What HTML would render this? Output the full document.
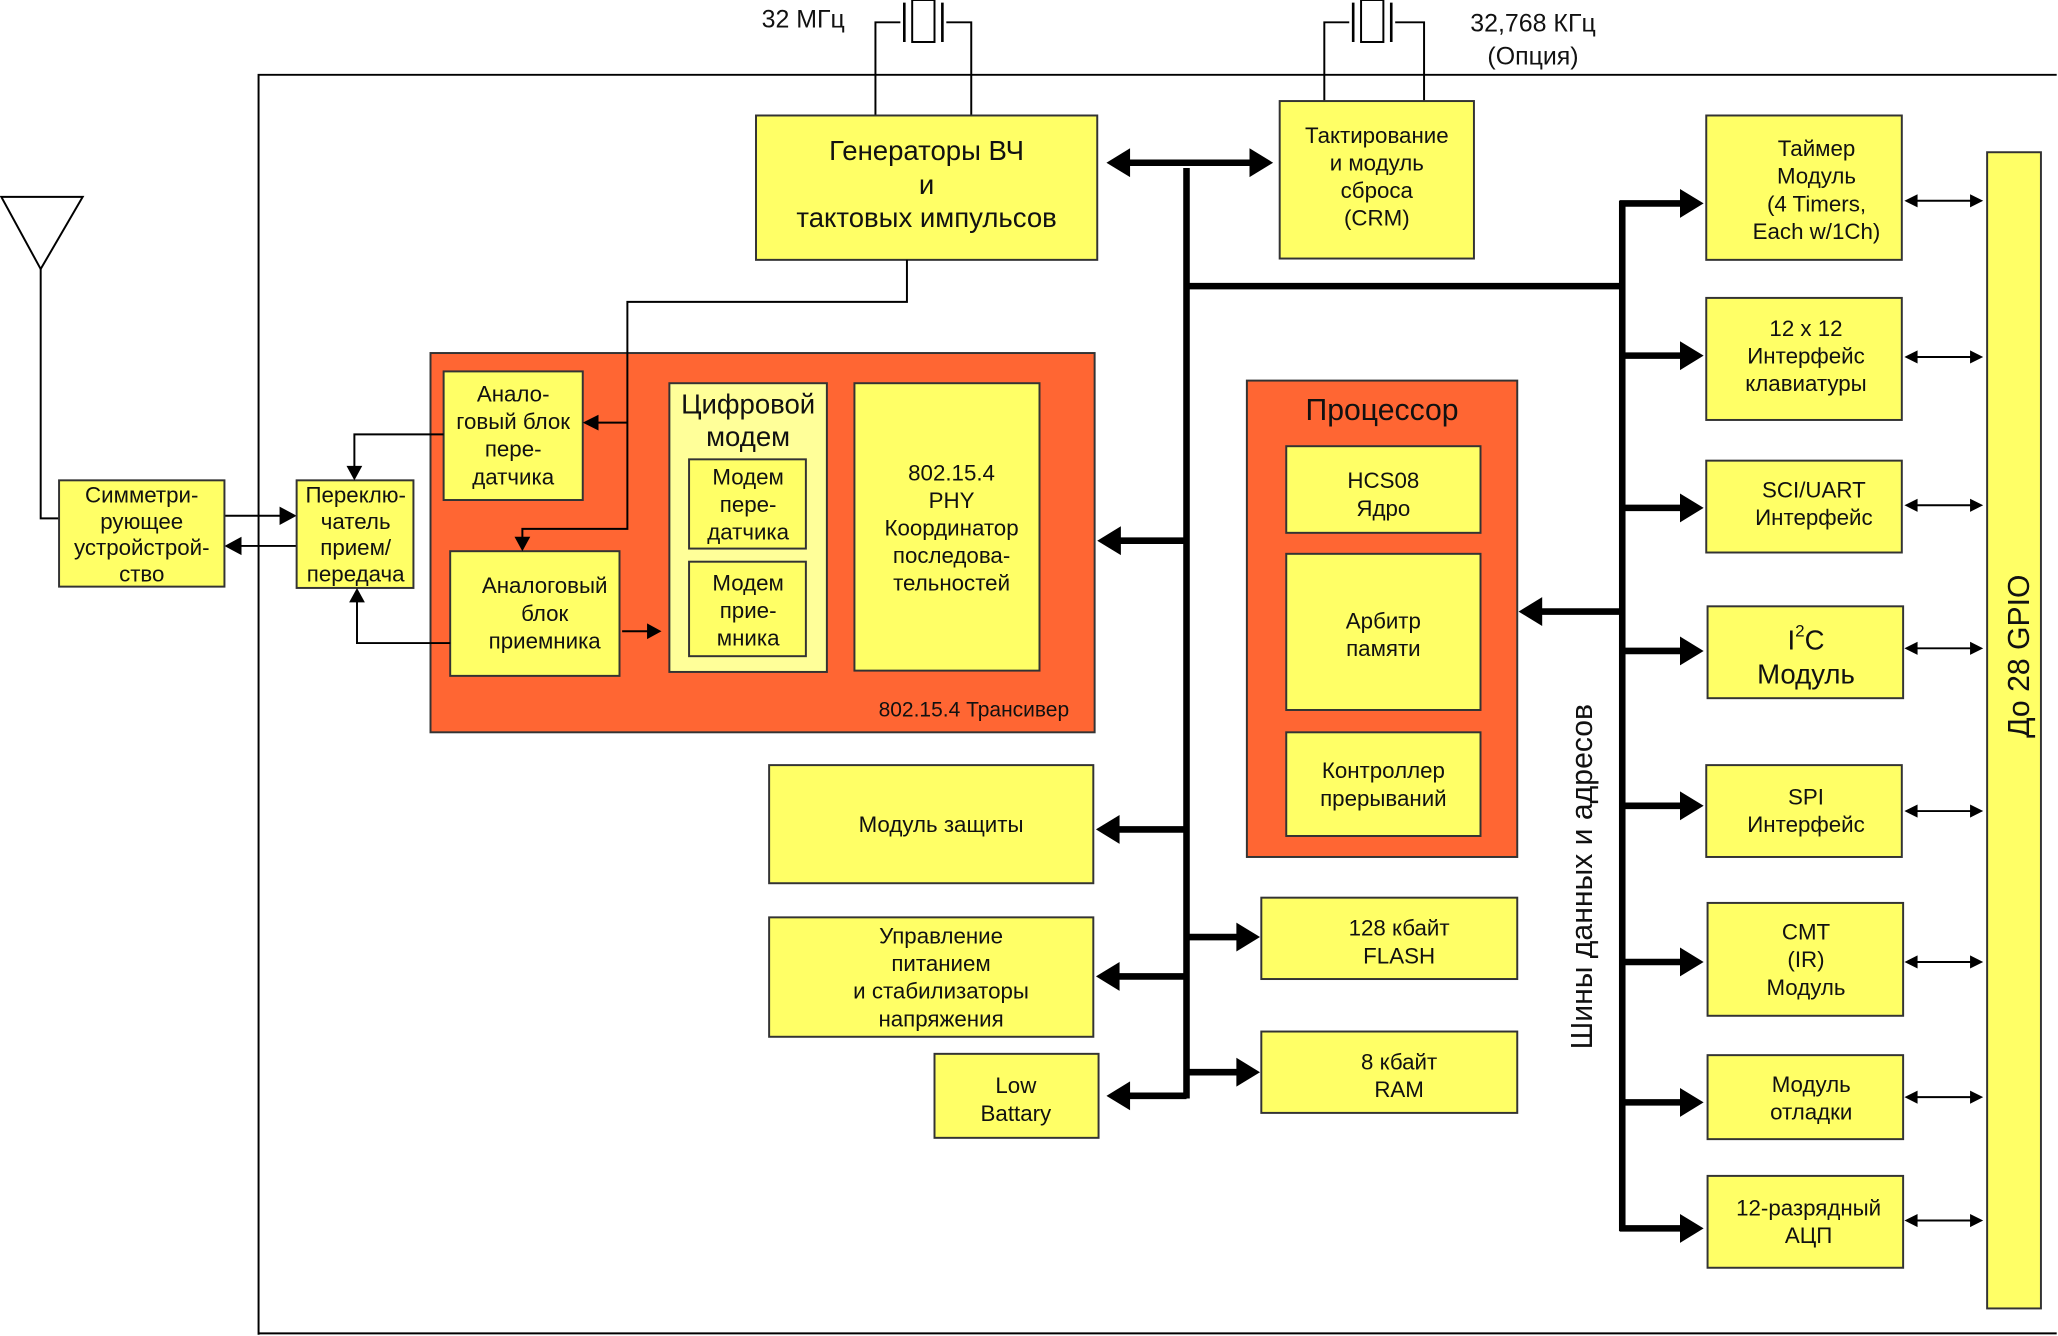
<!DOCTYPE html>
<html><head><meta charset="utf-8">
<style>
html,body{margin:0;padding:0;background:#fff;}
svg{display:block;}
text{font-family:"Liberation Sans","DejaVu Sans",sans-serif;fill:#111;}
</style></head>
<body>
<svg width="2058" height="1336" viewBox="0 0 1568 1018" preserveAspectRatio="none" xmlns="http://www.w3.org/2000/svg">
<g fill="none" stroke="#000" stroke-width="1.5">
  <polyline points="197,1017 197,57 1567,57"/>
  <line x1="197" y1="1016" x2="1567" y2="1016"/>
  <polygon points="1,150 63,150 31,205"/>
  <polyline points="31,205 31,395 45,395"/>
  <polyline points="667,88 667,17 686,17"/>
  <line x1="689" y1="2" x2="689" y2="32" stroke-width="2"/>
  <rect x="695" y="0" width="17" height="32"/>
  <line x1="718" y1="2" x2="718" y2="32" stroke-width="2"/>
  <polyline points="721,17 740,17 740,88"/>
  <polyline points="1009,77 1009,17 1028,17"/>
  <line x1="1031" y1="2" x2="1031" y2="32" stroke-width="2"/>
  <rect x="1037" y="0" width="17" height="32"/>
  <line x1="1060" y1="2" x2="1060" y2="32" stroke-width="2"/>
  <polyline points="1063,17 1085,17 1085,77"/>
  <line x1="171" y1="393" x2="217" y2="393"/>
  <line x1="226" y1="416" x2="181" y2="416"/>
  <line x1="1458" y1="153" x2="1504" y2="153"/>
  <line x1="1458" y1="272" x2="1504" y2="272"/>
  <line x1="1458" y1="385" x2="1504" y2="385"/>
  <line x1="1458" y1="494" x2="1504" y2="494"/>
  <line x1="1458" y1="618" x2="1504" y2="618"/>
  <line x1="1458" y1="733" x2="1504" y2="733"/>
  <line x1="1458" y1="836" x2="1504" y2="836"/>
  <line x1="1458" y1="930" x2="1504" y2="930"/>
</g>
<g fill="#000">
  <polygon points="226,393 213,386 213,400"/>
  <polygon points="171,416 184,409 184,423"/>
  <polygon points="1451,153 1461,148 1461,158"/><polygon points="1511,153 1501,148 1501,158"/>
  <polygon points="1451,272 1461,267 1461,277"/><polygon points="1511,272 1501,267 1501,277"/>
  <polygon points="1451,385 1461,380 1461,390"/><polygon points="1511,385 1501,380 1501,390"/>
  <polygon points="1451,494 1461,489 1461,499"/><polygon points="1511,494 1501,489 1501,499"/>
  <polygon points="1451,618 1461,613 1461,623"/><polygon points="1511,618 1501,613 1501,623"/>
  <polygon points="1451,733 1461,728 1461,738"/><polygon points="1511,733 1501,728 1501,738"/>
  <polygon points="1451,836 1461,831 1461,841"/><polygon points="1511,836 1501,831 1501,841"/>
  <polygon points="1451,930 1461,925 1461,935"/><polygon points="1511,930 1501,925 1501,935"/>
</g>
<g fill="none" stroke="#000" stroke-width="5">
  <line x1="855" y1="124" x2="958" y2="124"/>
  <line x1="904" y1="128" x2="904" y2="837"/>
  <line x1="904" y1="218" x2="1238" y2="218"/>
  <line x1="1236" y1="153" x2="1236" y2="938"/>
  <line x1="852" y1="412" x2="904" y2="412"/>
  <line x1="851" y1="632" x2="904" y2="632"/>
  <line x1="851" y1="744" x2="904" y2="744"/>
  <line x1="859" y1="835" x2="904" y2="835"/>
  <line x1="904" y1="714" x2="946" y2="714"/>
  <line x1="904" y1="817" x2="946" y2="817"/>
  <line x1="1173" y1="466" x2="1236" y2="466"/>
  <line x1="1234" y1="155" x2="1284" y2="155"/>
  <line x1="1236" y1="271" x2="1284" y2="271"/>
  <line x1="1236" y1="387" x2="1284" y2="387"/>
  <line x1="1236" y1="496" x2="1284" y2="496"/>
  <line x1="1236" y1="614" x2="1284" y2="614"/>
  <line x1="1236" y1="733" x2="1284" y2="733"/>
  <line x1="1236" y1="840" x2="1284" y2="840"/>
  <line x1="1234" y1="936" x2="1284" y2="936"/>
</g>
<g fill="#000">
  <polygon points="843,124 861,113 861,135"/>
  <polygon points="970,124 952,113 952,135"/>
  <polygon points="836,412 854,401 854,423"/>
  <polygon points="835,632 853,621 853,643"/>
  <polygon points="835,744 853,733 853,755"/>
  <polygon points="843,835 861,824 861,846"/>
  <polygon points="960,714 942,703 942,725"/>
  <polygon points="960,817 942,806 942,828"/>
  <polygon points="1157,466 1175,455 1175,477"/>
  <polygon points="1298,155 1280,144 1280,166"/>
  <polygon points="1298,271 1280,260 1280,282"/>
  <polygon points="1298,387 1280,376 1280,398"/>
  <polygon points="1298,496 1280,485 1280,507"/>
  <polygon points="1298,614 1280,603 1280,625"/>
  <polygon points="1298,733 1280,722 1280,744"/>
  <polygon points="1298,840 1280,829 1280,851"/>
  <polygon points="1298,936 1280,925 1280,947"/>
</g>
<g stroke="#333" stroke-width="1.5">
  <rect x="328" y="269" width="506" height="289" fill="#FF6633"/>
  <rect x="950" y="290" width="206" height="363" fill="#FF6633"/>
  <g fill="#FFFF66">
    <rect x="45" y="366" width="126" height="81"/>
    <rect x="226" y="366" width="89" height="82"/>
    <rect x="338" y="283" width="106" height="98"/>
    <rect x="343" y="420" width="129" height="95"/>
    <rect x="651" y="292" width="141" height="219"/>
    <rect x="576" y="88" width="260" height="110"/>
    <rect x="975" y="77" width="148" height="120"/>
    <rect x="980" y="340" width="148" height="66"/>
    <rect x="980" y="422" width="148" height="119"/>
    <rect x="980" y="558" width="148" height="79"/>
    <rect x="586" y="583" width="247" height="90"/>
    <rect x="586" y="699" width="247" height="91"/>
    <rect x="712" y="803" width="125" height="64"/>
    <rect x="961" y="684" width="195" height="62"/>
    <rect x="961" y="786" width="195" height="62"/>
    <rect x="1300" y="88" width="149" height="110"/>
    <rect x="1300" y="227" width="149" height="93"/>
    <rect x="1300" y="351" width="149" height="70"/>
    <rect x="1301" y="462" width="149" height="70"/>
    <rect x="1300" y="583" width="149" height="70"/>
    <rect x="1301" y="688" width="149" height="86"/>
    <rect x="1301" y="804" width="149" height="64"/>
    <rect x="1301" y="896" width="149" height="70"/>
    <rect x="1514" y="116" width="41" height="881"/>
  </g>
  <rect x="510" y="292" width="120" height="220" fill="#FFFF99"/>
  <rect x="525" y="350" width="89" height="68" fill="#FFFF66"/>
  <rect x="525" y="428" width="89" height="72" fill="#FFFF66"/>
</g>
<!-- connectors on top of transceiver -->
<g fill="none" stroke="#000" stroke-width="1.5">
  <polyline points="691,198 691,230 478,230 478,403 398,403 398,412"/>
  <line x1="478" y1="322" x2="454" y2="322"/>
  <polyline points="338,331 270,331 270,358"/>
  <polyline points="343,490 272,490 272,457"/>
  <line x1="474" y1="481" x2="496" y2="481"/>
</g>
<g fill="#000">
  <polygon points="398,420 392,409 404,409"/>
  <polygon points="444,322 456,316 456,328"/>
  <polygon points="270,366 264,355 276,355"/>
  <polygon points="272,448 266,459 278,459"/>
  <polygon points="504,481 493,475 493,487"/>
</g>
<g font-size="17" text-anchor="middle">
  <text x="612" y="21" font-size="19">32 МГц</text>
  <text x="1168" y="24" font-size="19">32,768 КГц</text>
  <text x="1168" y="49" font-size="19">(Опция)</text>
  <text x="108" y="383">Симметри-</text><text x="108" y="403">рующее</text><text x="108" y="423">устройстрой-</text><text x="108" y="443">ство</text>
  <text x="271" y="383">Переклю-</text><text x="271" y="403">чатель</text><text x="271" y="423">прием/</text><text x="271" y="443">передача</text>
  <text x="391" y="306">Анало-</text><text x="391" y="327">говый блок</text><text x="391" y="348">пере-</text><text x="391" y="369">датчика</text>
  <text x="415" y="452">Аналоговый</text><text x="415" y="473">блок</text><text x="415" y="494">приемника</text>
  <text x="570" y="315" font-size="21">Цифровой</text><text x="570" y="340" font-size="21">модем</text>
  <text x="570" y="369">Модем</text><text x="570" y="390">пере-</text><text x="570" y="411">датчика</text>
  <text x="570" y="450">Модем</text><text x="570" y="471">прие-</text><text x="570" y="492">мника</text>
  <text x="725" y="366">802.15.4</text><text x="725" y="387">PHY</text><text x="725" y="408">Координатор</text><text x="725" y="429">последова-</text><text x="725" y="450">тельностей</text>
  <text x="742" y="546" font-size="16">802.15.4 Трансивер</text>
  <text x="706" y="122" font-size="21">Генераторы ВЧ</text><text x="706" y="148" font-size="21">и</text><text x="706" y="173" font-size="21">тактовых импульсов</text>
  <text x="1049" y="109">Тактирование</text><text x="1049" y="130">и модуль</text><text x="1049" y="151">сброса</text><text x="1049" y="172">(CRM)</text>
  <text x="1053" y="320" font-size="23">Процессор</text>
  <text x="1054" y="372">HCS08</text><text x="1054" y="393">Ядро</text>
  <text x="1054" y="479">Арбитр</text><text x="1054" y="500">памяти</text>
  <text x="1054" y="593">Контроллер</text><text x="1054" y="614">прерываний</text>
  <text x="717" y="634">Модуль защиты</text>
  <text x="717" y="719">Управление</text><text x="717" y="740">питанием</text><text x="717" y="761">и стабилизаторы</text><text x="717" y="782">напряжения</text>
  <text x="774" y="833">Low</text><text x="774" y="854">Battary</text>
  <text x="1066" y="713">128 кбайт</text><text x="1066" y="734">FLASH</text>
  <text x="1066" y="815">8 кбайт</text><text x="1066" y="836">RAM</text>
  <text x="1384" y="119">Таймер</text><text x="1384" y="140">Модуль</text><text x="1384" y="161">(4 Timers,</text><text x="1384" y="182">Each w/1Ch)</text>
  <text x="1376" y="256">12 x 12</text><text x="1376" y="277">Интерфейс</text><text x="1376" y="298">клавиатуры</text>
  <text x="1382" y="379">SCI/UART</text><text x="1382" y="400">Интерфейс</text>
  <text x="1376" y="495" font-size="21">I<tspan font-size="13" dy="-10">2</tspan><tspan dy="10">C</tspan></text><text x="1376" y="521" font-size="21">Модуль</text>
  <text x="1376" y="613">SPI</text><text x="1376" y="634">Интерфейс</text>
  <text x="1376" y="716">CMT</text><text x="1376" y="737">(IR)</text><text x="1376" y="758">Модуль</text>
  <text x="1380" y="832">Модуль</text><text x="1380" y="853">отладки</text>
  <text x="1378" y="926">12-разрядный</text><text x="1378" y="947">АЦП</text>
  <text transform="translate(1213,668) rotate(-90)" font-size="23">Шины данных и адресов</text>
  <text transform="translate(1546,500) rotate(-90)" font-size="23">До 28 GPIO</text>
</g>
</svg>
</body></html>
